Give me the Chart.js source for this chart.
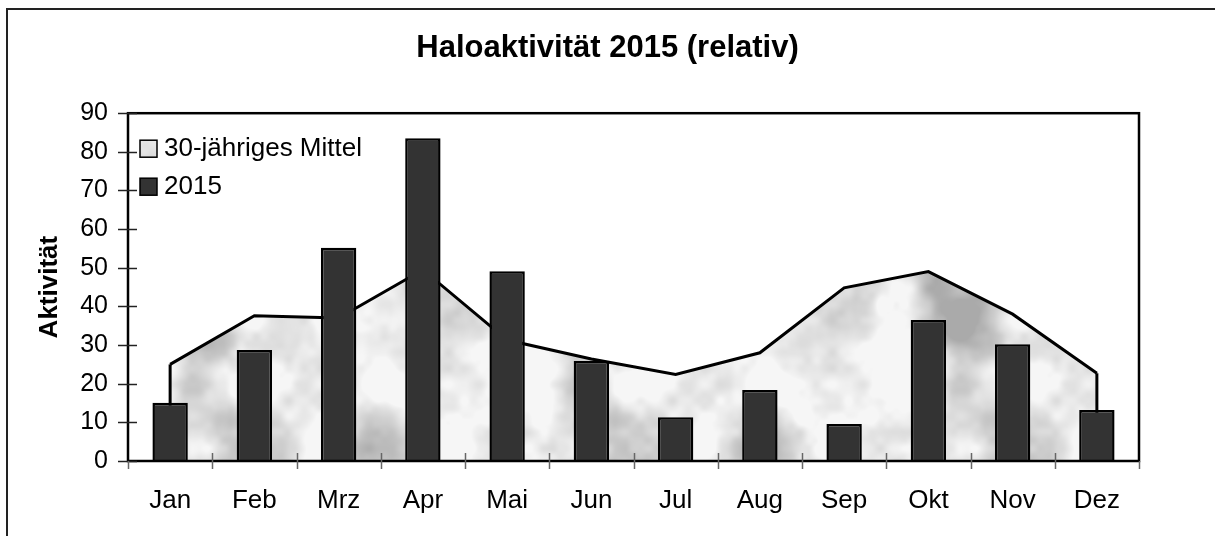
<!DOCTYPE html>
<html>
<head>
<meta charset="utf-8">
<script src="https://cdn.jsdelivr.net/npm/chart.js@4.4.1/dist/chart.umd.min.js"></script>
<style>
  html, body { margin: 0; padding: 0; background: #fff; }
  canvas { display: block; }
</style>
</head>
<body>
<canvas id="haloChart" width="1215" height="536"></canvas>
<script>
const months = ["Jan", "Feb", "Mrz", "Apr", "Mai", "Jun", "Jul", "Aug", "Sep", "Okt", "Nov", "Dez"];
const meanValues = [25, 37.6, 37, 49.5, 31.3, 26.4, 22.4, 28, 44.8, 49, 38, 22.7];
const values2015 = [15.1, 28.7, 55.2, 83.5, 49.1, 25.9, 11.3, 18.4, 9.6, 36.5, 30.2, 13.2];
const seriesLabels = ["30-jähriges Mittel", "2015"];
const chartTitle = "Haloaktivität 2015 (relativ)";
const axisTitle = "Aktivität";

const FONT = "'Liberation Sans', Arial, sans-serif";
Chart.defaults.font.family = FONT;
Chart.defaults.color = "#000";

// grey marble texture for the area series (deterministic hash noise)
function makeMarble() {
  const size = 384;
  const c = document.createElement("canvas");
  c.width = c.height = size;
  const g = c.getContext("2d");
  const img = g.createImageData(size, size);
  const hash = (x, y) => {
    let h = Math.imul(x, 374761393) ^ Math.imul(y, 668265263);
    h = Math.imul(h ^ (h >>> 13), 1274126177);
    h ^= h >>> 16;
    return (h >>> 0) / 4294967296;
  };
  const wrap = (a, p) => ((a % p) + p) % p;
  const noise = (x, y, p) => {
    const xi = Math.floor(x), yi = Math.floor(y);
    const fx = x - xi, fy = y - yi;
    const sx = fx * fx * (3 - 2 * fx), sy = fy * fy * (3 - 2 * fy);
    const a = hash(wrap(xi, p), wrap(yi, p));
    const b = hash(wrap(xi + 1, p), wrap(yi, p));
    const c2 = hash(wrap(xi, p), wrap(yi + 1, p));
    const d = hash(wrap(xi + 1, p), wrap(yi + 1, p));
    return a + (b - a) * sx + (c2 - a) * sy + (a - b - c2 + d) * sx * sy;
  };
  for (let y = 0; y < size; y++) {
    for (let x = 0; x < size; x++) {
      let n = 0, amp = 0.5, tot = 0;
      for (let o = 0; o < 4; o++) {
        const p = 6 << o;
        n += amp * noise((x * p) / size, (y * p) / size, p);
        tot += amp;
        amp *= 0.5;
      }
      n /= tot;
      const v = Math.round(Math.min(246, Math.max(170, 248 - (n - 0.3) * 175)));
      const i = (y * size + x) * 4;
      img.data[i] = img.data[i + 1] = img.data[i + 2] = v;
      img.data[i + 3] = 255;
    }
  }
  g.putImageData(img, 0, 0);
  return g.createPattern(c, "repeat");
}

const ctx = document.getElementById("haloChart").getContext("2d");
const marble = makeMarble();

const framePlugin = {
  id: "frame",
  beforeDraw(chart) {
    const c = chart.ctx;
    c.save();
    c.fillStyle = "#fff";
    c.fillRect(0, 0, chart.width, chart.height);
    c.strokeStyle = "#222";
    c.lineWidth = 2;
    c.beginPath();
    c.moveTo(7, chart.height);
    c.lineTo(7, 9);
    c.lineTo(chart.width, 9);
    c.stroke();
    c.restore();
  },
  afterDatasetDraw(chart, args) {
    if (args.index !== 0) return;
    const pts = args.meta.data;
    const base = chart.scales.y.getPixelForValue(0);
    const c = chart.ctx;
    c.save();
    c.strokeStyle = "#000";
    c.lineWidth = 3;
    [pts[0], pts[pts.length - 1]].forEach((p) => {
      c.beginPath();
      c.moveTo(p.x, p.y);
      c.lineTo(p.x, base);
      c.stroke();
    });
    c.restore();
  },
  afterDatasetsDraw(chart) {
    const c = chart.ctx;
    const { left, right, top, bottom } = chart.chartArea;
    const x = chart.scales.x;
    const y = chart.scales.y;
    c.save();
    // plot frame
    c.strokeStyle = "#000";
    c.lineWidth = 2.5;
    c.strokeRect(left, top, right - left, bottom - top);
    // y ticks
    c.lineWidth = 1.5;
    c.strokeStyle = "#222";
    y.ticks.forEach((t, i) => {
      const py = Math.round(y.getPixelForTick(i)) + 0.5;
      c.beginPath();
      c.moveTo(left - 10, py);
      c.lineTo(left + 9, py);
      c.stroke();
    });
    // x ticks between categories
    c.strokeStyle = "#666";
    for (let i = 0; i <= months.length; i++) {
      const px = Math.round(x.getPixelForValue(i - 0.5)) + 0.5;
      const inner = i === 0 || i === months.length ? 0 : 8;
      c.beginPath();
      c.moveTo(px, bottom - inner);
      c.lineTo(px, bottom + 8);
      c.stroke();
    }
    // legend inside plot
    const fills = [marble, "#333333"];
    c.font = "26px " + FONT;
    c.textBaseline = "middle";
    seriesLabels.forEach((label, i) => {
      const bx = left + 12, by = top + 27 + i * 38;
      c.fillStyle = fills[i];
      c.fillRect(bx, by, 17, 17);
      c.strokeStyle = "#000";
      c.lineWidth = 1.5;
      c.strokeRect(bx, by, 17, 17);
      c.fillStyle = "#000";
      c.fillText(label, bx + 24, by + 9);
    });
    c.restore();
  },
};

new Chart(ctx, {
  type: "bar",
  data: {
    labels: months,
    datasets: [
      {
        type: "line",
        label: seriesLabels[0],
        data: meanValues,
        fill: "origin",
        backgroundColor: marble,
        borderColor: "#000",
        borderWidth: 3,
        tension: 0,
        pointRadius: 0,
        order: 2,
      },
      {
        type: "bar",
        label: seriesLabels[1],
        data: values2015,
        backgroundColor: "#333333",
        borderColor: "#000",
        borderWidth: 2.5,
        categoryPercentage: 1,
        barPercentage: 0.42,
        order: 1,
      },
    ],
  },
  options: {
    responsive: false,
    animation: false,
    devicePixelRatio: 1,
    layout: { padding: 0 },
    plugins: {
      legend: { display: false },
      tooltip: { enabled: false },
      title: {
        display: true,
        text: chartTitle,
        color: "#000",
        font: { size: 31, weight: "bold" },
        padding: { top: 30, bottom: 46 },
      },
    },
    scales: {
      x: {
        offset: true,
        grid: { display: false, drawTicks: false },
        border: { display: false },
        ticks: { color: "#000", font: { size: 26 }, padding: 24, maxRotation: 0 },
        afterFit(scale) {
          scale.height = 75;
        },
      },
      y: {
        min: 0,
        max: 90,
        grid: { display: false, drawTicks: false },
        border: { display: false },
        ticks: { stepSize: 10, color: "#000", font: { size: 25 }, padding: 20 },
        title: {
          display: true,
          text: axisTitle,
          color: "#000",
          font: { size: 26, weight: "bold" },
          padding: { top: 34, bottom: 0 },
        },
        afterFit(scale) {
          scale.width = 128;
        },
      },
      // empty right-hand spacer so the plot ends where the reference does
      yRight: {
        position: "right",
        min: 0,
        max: 90,
        grid: { display: false, drawTicks: false },
        border: { display: false },
        ticks: { display: false },
        afterFit(scale) {
          scale.width = 76;
        },
      },
    },
  },
  plugins: [framePlugin],
});
</script>
</body>
</html>
